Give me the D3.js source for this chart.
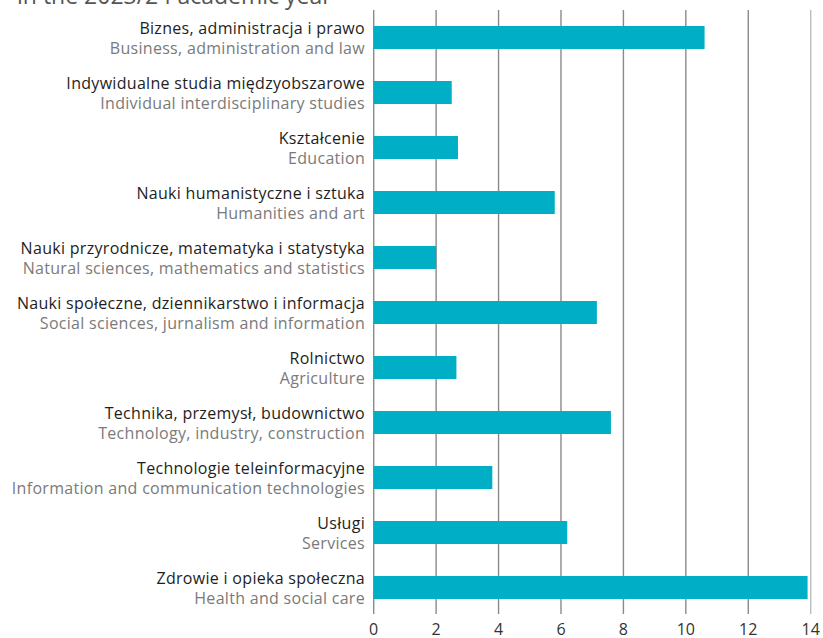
<!DOCTYPE html>
<html>
<head>
<meta charset="utf-8">
<script src="https://cdn.jsdelivr.net/npm/d3@7"></script>
<style>
  body { margin: 0; background: #fff; }
  svg { display: block; font-family: "Open Sans", "Noto Sans", sans-serif; }
</style>
</head>
<body>
<svg id="chart" width="823" height="638"></svg>
<script>
// Fields of study (Polish / English) and their values
const categoriesPl = [
  "Biznes, administracja i prawo",
  "Indywidualne studia międzyobszarowe",
  "Kształcenie",
  "Nauki humanistyczne i sztuka",
  "Nauki przyrodnicze, matematyka i statystyka",
  "Nauki społeczne, dziennikarstwo i informacja",
  "Rolnictwo",
  "Technika, przemysł, budownictwo",
  "Technologie teleinformacyjne",
  "Usługi",
  "Zdrowie i opieka społeczna"
];
const categoriesEn = [
  "Business, administration and law",
  "Individual interdisciplinary studies",
  "Education",
  "Humanities and art",
  "Natural sciences, mathematics and statistics",
  "Social sciences, jurnalism and information",
  "Agriculture",
  "Technology, industry, construction",
  "Information and communication technologies",
  "Services",
  "Health and social care"
];
const values = [10.6, 2.5, 2.7, 5.8, 2.0, 7.15, 2.65, 7.6, 3.8, 6.2, 13.9];
const xTicks = [0, 2, 4, 6, 8, 10, 12, 14];
const titleText = "in the 2023/24 academic year";

const svg = d3.select("#chart");
const plotLeft = 373.7, plotRight = 810.7;
const plotTop = 10, plotBottom = 614;

const x = d3.scaleLinear().domain([0, 14]).range([plotLeft, plotRight]);
const y = d3.scaleBand()
  .domain(d3.range(values.length))
  .range([10, 615])
  .paddingInner(0.582)
  .paddingOuter(0.291);

// partially visible title above the chart
svg.append("text")
  .attr("x", 17).attr("y", 4)
  .attr("font-size", 23)
  .attr("fill", "#555")
  .text(titleText);

// vertical gridlines
svg.append("g").selectAll("line")
  .data(xTicks)
  .join("line")
  .attr("x1", d => x(d)).attr("x2", d => x(d))
  .attr("y1", plotTop).attr("y2", plotBottom)
  .attr("stroke", d => d === 14 ? "#bdbdbd" : "#8a8a8a")
  .attr("stroke-width", 1.4);

// bars
svg.append("g").selectAll("rect")
  .data(values)
  .join("rect")
  .attr("x", x(0))
  .attr("y", (d, i) => y(i))
  .attr("width", d => x(d) - x(0))
  .attr("height", y.bandwidth())
  .attr("fill", "#00aec5");

// category labels: Polish name above, English name below
const labels = svg.append("g")
  .attr("text-anchor", "end")
  .attr("font-size", 16)
  .attr("letter-spacing", 0.3);
labels.selectAll("text.pl")
  .data(categoriesPl)
  .join("text")
  .attr("class", "pl")
  .attr("x", 365)
  .attr("y", (d, i) => y(i) + y.bandwidth() / 2 - 3.5)
  .attr("fill", "#1e1e1e")
  .text(d => d);
labels.selectAll("text.en")
  .data(categoriesEn)
  .join("text")
  .attr("class", "en")
  .attr("x", 365)
  .attr("y", (d, i) => y(i) + y.bandwidth() / 2 + 16.5)
  .attr("fill", "#7a7a7a")
  .text(d => d);

// x axis tick labels
svg.append("g").attr("text-anchor", "middle").attr("font-size", 16)
  .selectAll("text")
  .data(xTicks)
  .join("text")
  .attr("x", d => x(d))
  .attr("y", 635)
  .attr("fill", "#333")
  .text(d => d);
</script>
</body>
</html>
